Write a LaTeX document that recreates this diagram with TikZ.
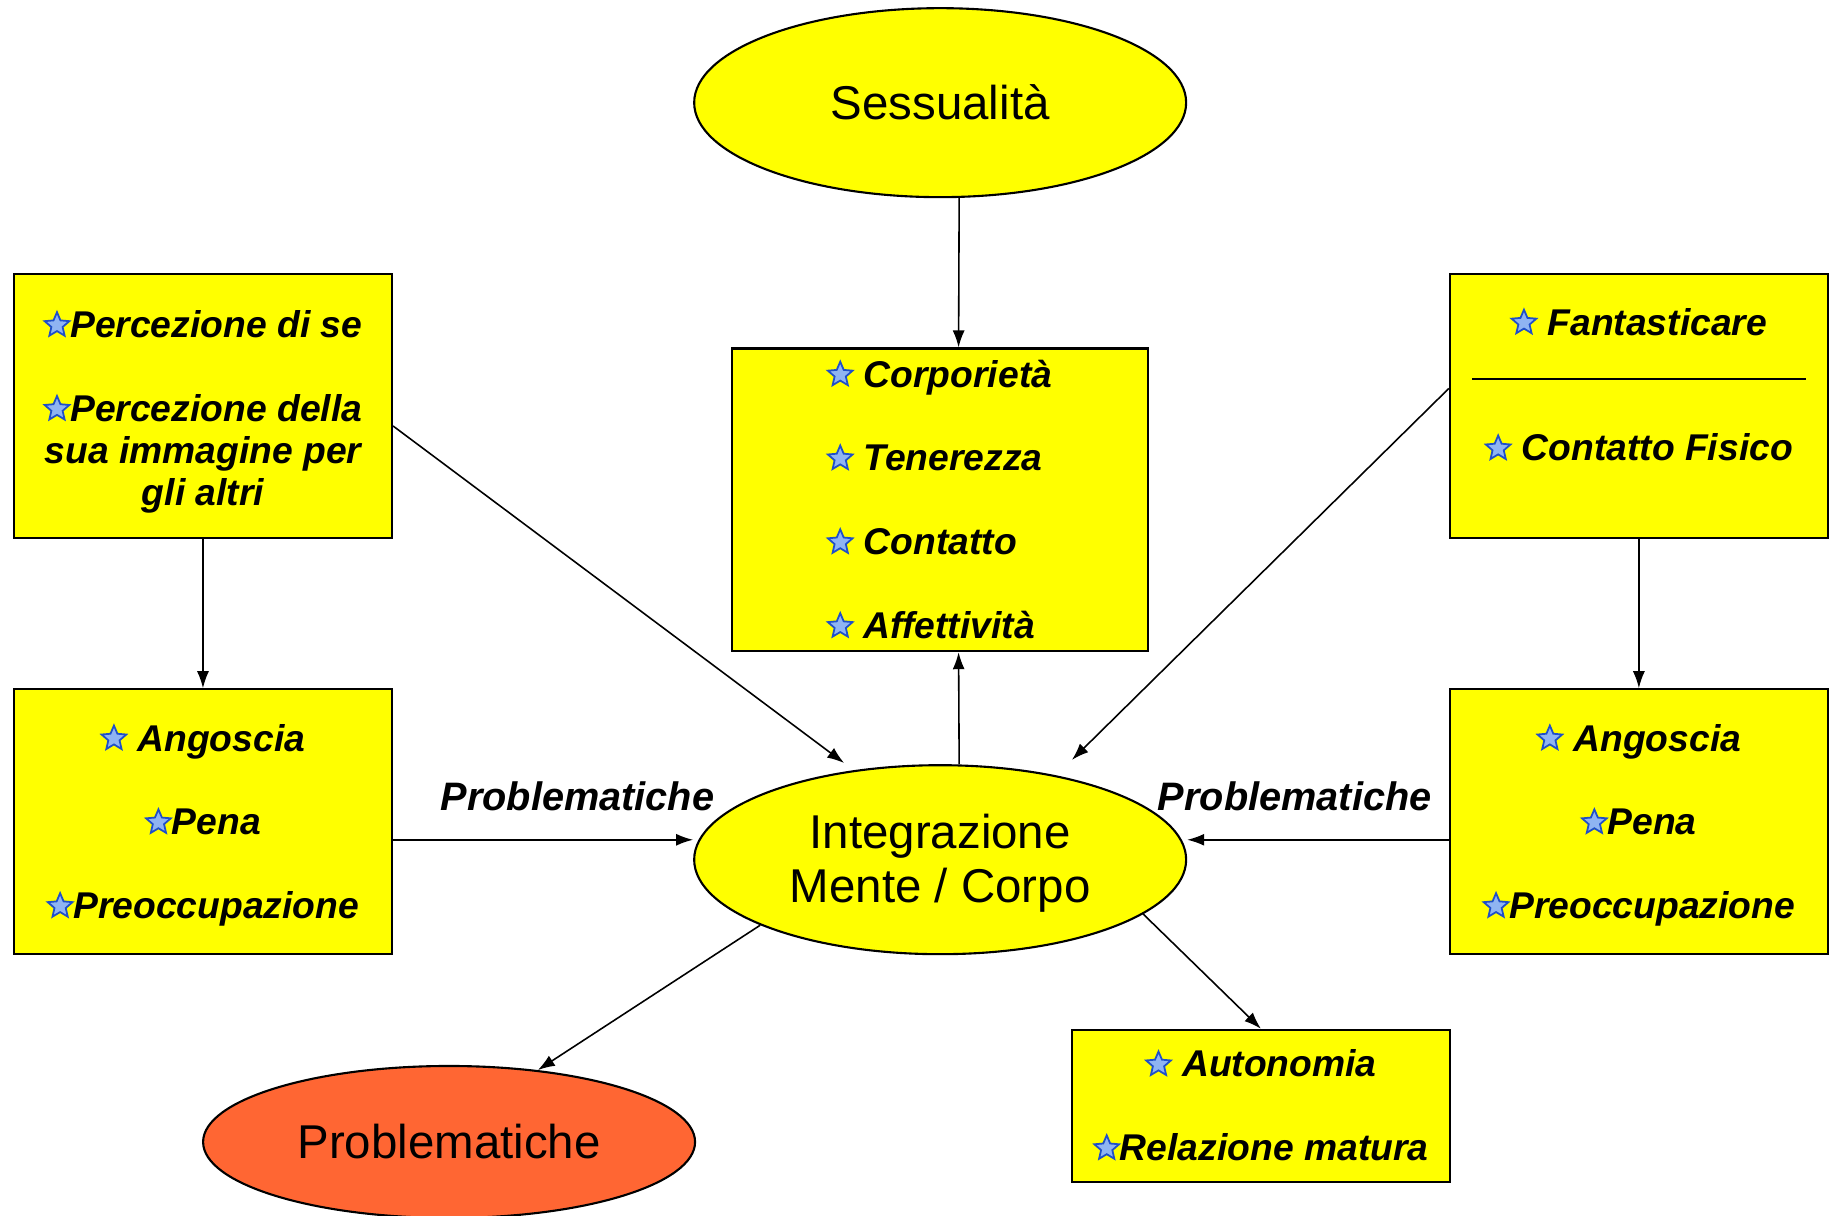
\documentclass[tikz,border=0pt]{standalone}
\usepackage{fontspec}
\setmainfont{Liberation Sans}
\usepackage{tikz}
\usetikzlibrary{arrows.meta,positioning,calc,shapes}
\tikzset{>={Latex[length=1.7mm,width=1.2mm]}}

\definecolor{giallo}{HTML}{FFFF00}
\definecolor{arancio}{HTML}{FF6633}
\definecolor{blustella}{HTML}{1F4FC8}
\definecolor{azzurro}{HTML}{8FB4F2}

\newcommand{\stella}{\strut\tikz[baseline=-1.25mm]\node[star,star points=5,star point ratio=2.2,minimum size=2.6mm,inner sep=0pt,draw=blustella,fill=azzurro,line width=0.5pt] (st) {};}
\newcommand{\alto}{\rule{0pt}{11pt}}

\begin{document}
\begin{tikzpicture}[x=0.11665mm,y=-0.11665mm,line width=0.45pt,
  voce/.style={draw,fill=giallo,line width=0.6pt,align=center,inner sep=0pt,
    font=\fontsize{10.6}{11.9}\selectfont\bfseries\itshape},
  bolla/.style={draw,ellipse,fill=giallo,line width=0.6pt,inner sep=0pt,align=center,
    minimum width=49.2mm,minimum height=18.9mm,font=\fontsize{13.5}{15.3}\selectfont},
  etich/.style={font=\fontsize{11.3}{13}\selectfont\bfseries\itshape}]

\useasboundingbox (0,0) rectangle (1568,1042);

\node [bolla] (sess) at (806,88) {Sessualità};
\node [bolla] (integ) at (806,737) {\rule{0pt}{12pt}Integrazione\\Mente / Corpo};
\node [bolla,fill=arancio,minimum height=15.2mm] (prob) at (385,979) {Problematiche};

\node [voce,minimum width=37.8mm,minimum height=26.4mm] (lt) at (174,348) {\alto\stella Percezione di se\\[4.2mm]\stella Percezione della\\sua immagine per\\gli altri};
\node [voce,align=left,minimum width=41.6mm,minimum height=30.2mm] (ct) at (805.5,428.5) {\alto\stella\ Corporietà\\[4.2mm]\stella\ Tenerezza\\[4.2mm]\stella\ Contatto\\[4.2mm]\stella\ Affettività};
\node [voce,minimum width=37.8mm,minimum height=26.4mm] (rt) at (1405,348) {\alto\stella\ Fantasticare\\[8.4mm]\stella\ Contatto Fisico\\\strut};
\node [voce,minimum width=37.8mm,minimum height=26.5mm] (lm) at (174,704.5) {\alto\stella\ Angoscia\\[4.2mm]\stella Pena\\[4.2mm]\stella Preoccupazione};
\node [voce,minimum width=37.8mm,minimum height=26.5mm] (rm) at (1405,704.5) {\alto\stella\ Angoscia\\[4.2mm]\stella Pena\\[4.2mm]\stella Preoccupazione};
\node [voce,minimum width=37.8mm,minimum height=15.2mm] (au) at (1081,948) {\alto\stella\ Autonomia\\[4.2mm]\stella Relazione matura};

\node [etich] (plab) at (495,683) {Problematiche};
\node [etich] (prab) at (1110,683) {Problematiche};

\draw ($(rt.north west)+(20,91)$) -- ($(rt.north east)+(-20,91)$);

\begin{scope}[line width=0.45pt]
\draw[->] ([xshift=1.9mm]sess.south) -- ([xshift=1.9mm]ct.north);
\draw[->] ([xshift=1.9mm]integ.north) -- ([xshift=1.9mm]ct.south);
\draw[->,shorten >=1.2mm] ([yshift=-2mm]lt.east) -- (integ.134);
\draw[->,shorten >=2.2mm] ([yshift=1.75mm]rt.west) -- (integ.36);
\draw[->] (lt.south) -- (lm.north);
\draw[->] (rt.south) -- (rm.north);
\draw[->] ([yshift=-1.8mm]lm.east) -- ([yshift=-1.8mm]lm.east -| integ.west);
\draw[->] ([yshift=-1.8mm]rm.west) -- ([yshift=-1.8mm]rm.west -| integ.east);
\draw[->] (integ.200) -- (prob.39);
\draw[->] (integ.-15) -- (au.north);
\end{scope}

\end{tikzpicture}
\end{document}
